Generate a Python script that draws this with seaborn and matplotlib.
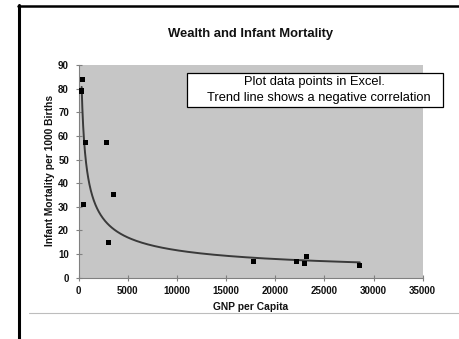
import numpy as np
import pandas as pd
import matplotlib
matplotlib.use("Agg")
import matplotlib.pyplot as plt
from matplotlib.lines import Line2D
from matplotlib.patches import Rectangle
import seaborn as sns

# GNP per capita (US$) and infant deaths per 1000 live births
gnp = [350, 300, 700, 2800, 450, 3500, 3000, 17800, 22200, 23200, 23000, 28600]
mortality = [84, 79, 57, 57, 31, 35, 15, 7, 7, 9, 6, 5]

x_ticks = [0, 5000, 10000, 15000, 20000, 25000, 30000, 35000]
y_ticks = [0, 10, 20, 30, 40, 50, 60, 70, 80, 90]

title = "Wealth and Infant Mortality"
x_label = "GNP per Capita"
y_label = "Infant Mortality per 1000 Births"
note_lines = ["Plot data points in Excel.", "Trend line shows a negative correlation"]

sns.set_theme(style="white")
plt.rcParams["font.family"] = ["Liberation Sans", "DejaVu Sans"]

df = pd.DataFrame({"gnp": gnp, "mortality": mortality})

# Power trend line (least squares on log-log), like a spreadsheet trendline
b, log_a = np.polyfit(np.log(df["gnp"]), np.log(df["mortality"]), 1)
xs = np.geomspace(df["gnp"].min(), df["gnp"].max(), 300)
trend = pd.DataFrame({"gnp": xs, "mortality": np.exp(log_a) * xs ** b})

W, H = 460, 339
fig = plt.figure(figsize=(W / 100, H / 100), dpi=100)
fig.patch.set_facecolor("white")
ax = fig.add_axes([78.7 / W, 1 - 277.7 / H, 344 / W, 212.7 / H])
ax.set_facecolor("#c6c6c6")

sns.lineplot(data=trend, x="gnp", y="mortality", ax=ax, color="#3a3a3a",
             linewidth=1.4, zorder=2)
sns.scatterplot(data=df, x="gnp", y="mortality", ax=ax, marker="s", s=13,
                color="black", edgecolor="none", linewidth=0, zorder=3)

ax.set_xlim(0, 35000)
ax.set_ylim(0, 90)
ax.set_xticks(x_ticks)
ax.set_yticks(y_ticks)
ax.set_xticklabels([str(t) for t in x_ticks], fontweight="bold", fontsize=7)
ax.set_yticklabels([str(t) for t in y_ticks], fontweight="bold", fontsize=7)
ax.tick_params(axis="both", direction="inout", length=4, width=0.8,
               color="#808080", pad=4, labelcolor="#111111")
ax.tick_params(axis="y", pad=5)
ax.xaxis.set_ticks_position("bottom")
ax.yaxis.set_ticks_position("left")
for side in ("top", "right"):
    ax.spines[side].set_visible(False)
for side in ("left", "bottom"):
    ax.spines[side].set_visible(True)
    ax.spines[side].set_color("#808080")
    ax.spines[side].set_linewidth(0.8)

ax.set_xlabel("")
ax.set_ylabel("")
fig.text(250.7 / W, 1 - 307 / H, x_label, ha="center", va="center",
         fontsize=7.4, fontweight="bold", color="#111111")
fig.text(50.5 / W, 1 - 170 / H, y_label, ha="center", va="center",
         rotation=90, fontsize=7.4, fontweight="bold", color="#111111")
fig.text(251 / W, 1 - 34 / H, title, ha="center", va="center",
         fontsize=9.4, fontweight="bold", color="#111111")

# Note box
fig.add_artist(Rectangle((186.7 / W, 1 - 106.7 / H), 256 / W, 34 / H,
                         transform=fig.transFigure, facecolor="white",
                         edgecolor="black", linewidth=0.9, zorder=5))
fig.text(314.5 / W, 1 - 82 / H, note_lines[0], ha="center", va="center",
         fontsize=9.3, color="black", zorder=6)
fig.text(318.5 / W, 1 - 98 / H, note_lines[1], ha="center", va="center",
         fontsize=9.3, color="black", zorder=6)

# Page frame lines
fig.add_artist(Line2D([19 / W, 19 / W], [0, 1 - 5 / H], transform=fig.transFigure,
                      color="black", linewidth=2.2))
fig.add_artist(Line2D([17.5 / W, 1], [1 - 6 / H, 1 - 6 / H], transform=fig.transFigure,
                      color="black", linewidth=1.8))
fig.add_artist(Line2D([29 / W, 1], [1 - 313.3 / H, 1 - 313.3 / H],
                      transform=fig.transFigure, color="#bdbdbd", linewidth=0.8))

fig.savefig("out.png", dpi=100, facecolor="white")
